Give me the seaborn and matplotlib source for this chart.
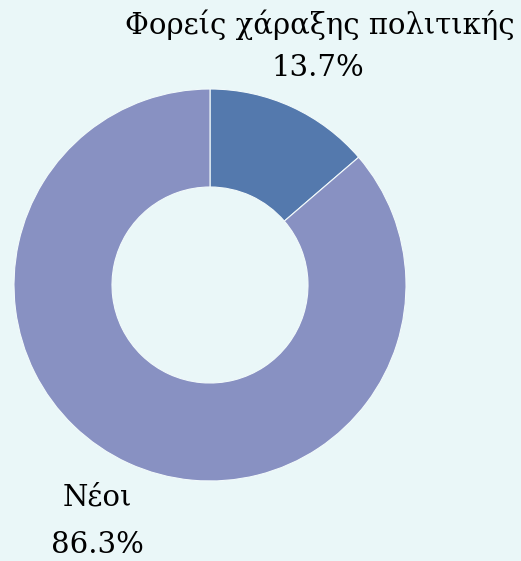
import matplotlib.pyplot as plt
import seaborn as sns

sns.set_style('white')
plt.rcParams['font.family'] = ['DejaVu Serif']

# share of respondents by group
groups = ['Φορείς χάραξης πολιτικής', 'Νέοι']
shares = [13.7, 86.3]
colors = ['#5479AD', '#8891C2']
bg = '#EAF7F8'

fig = plt.figure(figsize=(5.21, 5.61), dpi=100, facecolor=bg)
ax = fig.add_axes([0, 0, 1, 1])
ax.set_facecolor(bg)

# axes in pixel units so the ring sits where it does in the original
ax.pie(shares, colors=colors, startangle=90, counterclock=False,
       center=(210, 276), radius=196,
       wedgeprops=dict(width=98, edgecolor='#F2FAFB', linewidth=0.8))
ax.set_xlim(0, 521)
ax.set_ylim(0, 561)
ax.set_aspect('equal')
ax.axis('off')

txt = dict(ha='center', va='center', fontsize=21, color='black')
ax.text(320, 536, groups[0], **txt)
ax.text(318, 493, f'{shares[0]}%', **txt)
ax.text(97, 64, groups[1], **txt)
ax.text(97, 16, f'{shares[1]}%', **txt)

plt.savefig('out.png', dpi=100, facecolor=bg)
